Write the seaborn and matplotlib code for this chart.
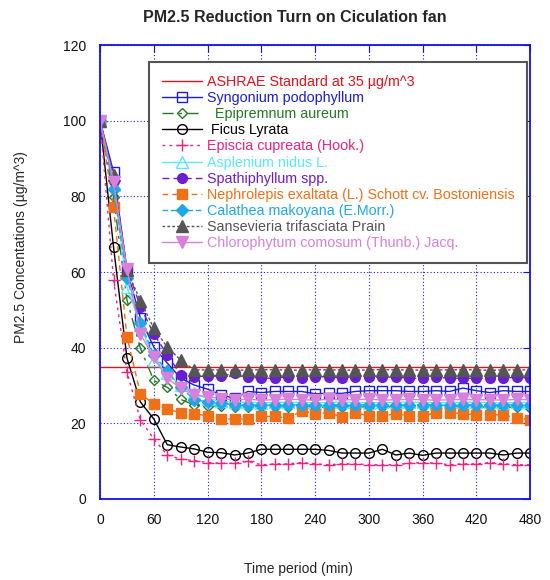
import pandas as pd
import matplotlib
matplotlib.use('Agg')
import matplotlib.pyplot as plt
import seaborn as sns

"""Time axis: every 15 min over 8 hours"""
time_min = list(range(0, 481, 15))

ashrae = [35] * len(time_min)
syngonium = [100, 86.5, 60.5, 47.8, 40.1, 35.9, 31.9, 30.1, 29.0, 27.5,
             26.6, 28.4, 28.1, 28.4, 28.4, 28.4, 27.8, 27.9, 27.9, 28.4, 28.6, 28.6,
             28.6, 28.4, 28.4, 28.6, 28.4, 29.3, 28.6, 28.1, 28.6, 28.4, 28.4]
epipremnum = [100, 79.8, 52.6, 39.8, 31.3, 29.5, 26.3, 24.8, 24.6, 24.5,
              24.3, 24.2, 24.4, 24.3, 24.2, 24.4, 24.3, 24.2, 24.4, 24.3, 24.3, 24.2,
              24.4, 24.3, 24.2, 24.3, 24.4, 24.3, 24.2, 24.3, 24.3, 24.2, 24.1]
ficus = [100, 66.6, 37.2, 25.6, 21.1, 14.3, 13.7, 13.2, 12.3, 12.2,
         11.6, 12.1, 13.1, 13.1, 13.1, 13.1, 13.1, 12.8, 12.1, 12.1, 12.1, 13.1,
         11.6, 12.1, 11.5, 12.1, 12.1, 12.1, 12.1, 12.1, 11.6, 12.1, 12.1]
episcia = [100, 57.9, 33.5, 20.9, 15.8, 11.6, 10.5, 10.1, 9.6, 9.4,
           9.4, 9.9, 9.0, 9.25, 9.25, 9.6, 9.25, 9.0, 9.25, 9.25, 9.0, 9.0,
           9.0, 9.4, 9.6, 9.4, 9.0, 9.25, 9.25, 9.6, 9.25, 9.0, 9.0]
asplenium = [100, 83.0, 56.1, 46.0, 36.7, 33.2, 30.0, 28.0, 26.5, 25.8,
             25.5, 25.6, 25.4, 25.5, 25.6, 25.5, 25.4, 25.5, 25.6, 25.5, 25.4, 25.5,
             25.5, 25.6, 25.5, 25.4, 25.5, 25.6, 25.5, 25.5, 25.4, 25.5, 25.5]
spathiphyllum = [100, 84.0, 61.0, 50.8, 43.6, 38.1, 32.8, 32.3, 32.5, 32.5,
                 33.2, 32.2, 31.9, 31.9, 32.3, 31.9, 32.3, 32.3, 31.9, 32.3, 32.2, 32.2,
                 32.2, 31.9, 31.9, 32.2, 31.9, 31.9, 31.9, 31.9, 31.9, 32.2, 31.9]
nephrolepis = [100, 77.1, 42.9, 27.8, 25.1, 23.7, 22.8, 22.5, 21.9, 21.1,
               21.1, 21.1, 21.8, 21.8, 21.3, 23.3, 22.5, 22.8, 21.6, 22.8, 21.9, 21.9,
               22.5, 21.9, 21.9, 22.8, 22.8, 22.5, 22.2, 22.2, 22.2, 21.3, 20.9]
calathea = [100, 82.0, 58.3, 46.4, 38.1, 33.7, 29.5, 26.2, 25.7, 25.4,
            24.8, 24.9, 24.7, 24.8, 24.8, 24.9, 24.7, 24.8, 24.8, 24.9, 24.8, 24.7,
            24.8, 24.8, 24.9, 24.8, 24.7, 24.8, 24.8, 24.8, 24.9, 24.8, 24.8]
sansevieria = [100, 85.6, 60.5, 52.4, 45.1, 40.1, 36.7, 34.1, 34.1, 34.1,
               34.1, 34.0, 34.2, 34.1, 34.1, 34.0, 34.2, 34.1, 34.1, 34.0, 34.1, 34.2,
               34.1, 34.1, 34.0, 34.1, 34.1, 34.2, 34.1, 34.0, 34.1, 34.1, 34.1]
chlorophytum = [100, 83.9, 60.7, 43.6, 37.4, 31.9, 29.2, 27.5, 27.0, 26.5,
                26.2, 26.3, 26.1, 26.2, 26.4, 26.2, 26.1, 26.3, 26.2, 26.2, 26.4, 26.1,
                26.2, 26.3, 26.2, 26.1, 26.2, 26.3, 26.2, 26.2, 26.1, 26.3, 26.2]

"""label, values, color, linestyle, marker, filled"""
series = [
    ('ASHRAE Standard at 35 µg/m^3', ashrae, '#e8101a', '-', None, True),
    ('Syngonium podophyllum', syngonium, '#1c1cd6', '-', 's', False),
    ('  Epipremnum aureum', epipremnum, '#237a23', (0, (8, 4, 2, 4)), 'D', False),
    (' Ficus Lyrata', ficus, '#000000', '-', 'o', False),
    ('Episcia cupreata (Hook.)', episcia, '#f0207f', (0, (2, 3)), '+', True),
    ('Asplenium nidus L.', asplenium, '#5ae8f8', '-', '^', False),
    ('Spathiphyllum spp.', spathiphyllum, '#6a1ed2', (0, (5, 3)), 'o', True),
    ('Nephrolepis exaltata (L.) Schott cv. Bostoniensis', nephrolepis, '#f07018', (0, (4, 3)), 's', True),
    ('Calathea makoyana (E.Morr.)', calathea, '#1ea8ea', (0, (4, 2)), 'D', True),
    ('Sansevieria trifasciata Prain', sansevieria, '#555555', (0, (2, 1.5)), '^', True),
    ('Chlorophytum comosum (Thunb.) Jacq.', chlorophytum, '#d880dc', '-', 'v', True),
]

sns.set_style('white')
plt.rcParams['font.family'] = ['Liberation Sans', 'DejaVu Sans']

fig = plt.figure(figsize=(5.5, 5.8), dpi=100)
ax = fig.add_axes([0.182, 0.14, 0.782, 0.782])

msizes = {'s': 7, 'D': 5, 'o': 7, '+': 8, '^': 8, 'v': 8}
for label, vals, color, ls, mk, filled in series:
    df = pd.DataFrame({'time': time_min, 'pm': vals})
    kw = dict(color=color, linestyle=ls, linewidth=1.0, label=label)
    if mk is not None:
        size = msizes[mk]
        if mk == 'D' and filled:
            size = 6
        kw.update(marker=mk, markersize=size,
                  markerfacecolor=color if filled else 'none',
                  markeredgecolor=color, markeredgewidth=1.0)
    sns.lineplot(data=df, x='time', y='pm', ax=ax, **kw)

ax.set_xlim(0, 480)
ax.set_ylim(0, 120)
ax.set_xticks(range(0, 481, 60))
ax.set_yticks(range(0, 121, 20))
ax.grid(True, color='#1a1aff', linestyle=(0, (1, 2)), linewidth=0.8)
for s in ax.spines.values():
    s.set_color('#1010ee')
    s.set_linewidth(1.3)
ax.tick_params(direction='in', length=5, color='#1010ee', top=True, right=True,
               labelsize=10, pad=10, labelcolor='#111111')

fig.text(295 / 550, 1 - 18 / 580, 'PM2.5 Reduction Turn on Ciculation fan',
         fontsize=11.5, fontweight='bold', ha='center', va='center')
ax.set_xlabel('Time period (min)', fontsize=10)
ax.xaxis.set_label_coords((298 - 100) / 430, -(562 - 499) / 454)
ax.set_ylabel('PM2.5 Concentations (µg/m^3)', fontsize=10)
ax.yaxis.set_label_coords(-(100 - 28) / 430, (499 - 247) / 454)

leg = ax.legend(loc='upper right', bbox_to_anchor=(0.993, 0.963), fontsize=10.3,
                frameon=True, fancybox=False, handlelength=2.8, handletextpad=0.35,
                labelspacing=0.15, borderpad=0.9, borderaxespad=0.0)
leg.get_frame().set_edgecolor('#555555')
leg.get_frame().set_linewidth(1.5)
leg.get_frame().set_alpha(1)
for text, s in zip(leg.get_texts(), series):
    text.set_color(s[2])

fig.savefig('out.png', dpi=100)
